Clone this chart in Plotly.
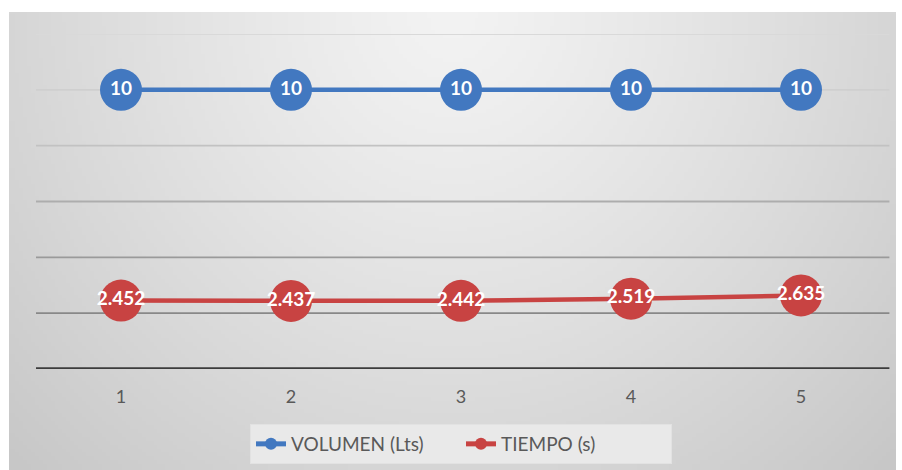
import base64
import struct
import zlib

import numpy as np
import plotly.graph_objects as go

# Series data
trials = [1, 2, 3, 4, 5]
tick_text = ["1", "2", "3", "4", "5"]
volumen = [10, 10, 10, 10, 10]
tiempo = [2.452, 2.437, 2.442, 2.519, 2.635]

# Horizontal grid levels and their shades (lighter towards the top)
grid_levels = [2, 4, 6, 8, 10, 12]
grid_colors = ["#888888", "#9a9a9a", "#adadad", "#c2c2c2", "#cfcfcf", "#d9d9d9"]

BLUE = "#4278c0"
RED = "#c84342"
TEXT_GREY = "#595959"
FONT = "Lato, 'Open Sans', sans-serif"


def png_data_uri(rgb):
    """Encode an HxWx3 uint8 array as a PNG data URI."""
    h, w, _ = rgb.shape
    raw = b"".join(b"\x00" + rgb[i].tobytes() for i in range(h))

    def chunk(tag, data):
        c = struct.pack(">I", len(data)) + tag + data
        return c + struct.pack(">I", zlib.crc32(tag + data) & 0xFFFFFFFF)

    png = b"\x89PNG\r\n\x1a\n"
    png += chunk(b"IHDR", struct.pack(">IIBBBBB", w, h, 8, 2, 0, 0, 0))
    png += chunk(b"IDAT", zlib.compress(raw, 9))
    png += chunk(b"IEND", b"")
    return "data:image/png;base64," + base64.b64encode(png).decode()


# Soft radial grey backdrop, brightest near the top centre
W, H = 224, 116
xx, yy = np.meshgrid(np.linspace(-1, 1, W), np.linspace(0, 1, H))
d = np.sqrt(xx ** 2 + yy ** 2)
shade = np.clip(243 - 29 * d ** 1.2, 196, 245).astype(np.uint8)
backdrop = np.dstack([shade, shade, shade])

# Page geometry (pixels)
PAGE_W, PAGE_H = 902, 470
ML, MR, MT, MB = 36, 16, 34, 101
PW = PAGE_W - ML - MR
PH = PAGE_H - MT - MB
BG_LEFT, BG_TOP, BG_RIGHT = 9, 12, 896
LEGEND_CY = 444

LABEL_FONT = dict(color="white", size=19, family=FONT, weight="bold")

fig = go.Figure()

fig.add_trace(go.Scatter(
    x=trials, y=volumen, name="VOLUMEN (Lts)",
    mode="lines+markers+text",
    line=dict(color=BLUE, width=4.5),
    marker=dict(color=BLUE, size=42),
    text=[f"{v:g}" for v in volumen],
    textposition="middle center",
    textfont=LABEL_FONT,
))
fig.add_trace(go.Scatter(
    x=trials, y=tiempo, name="TIEMPO (s)",
    mode="lines+markers+text",
    line=dict(color=RED, width=4.5),
    marker=dict(color=RED, size=42),
    text=[f"{v:.3f}" for v in tiempo],
    textposition="middle center",
    textfont=LABEL_FONT,
))

shapes = []
for lvl, col in zip(grid_levels, grid_colors):
    shapes.append(dict(type="line", xref="paper", yref="y", x0=0, x1=1.004,
                       y0=lvl, y1=lvl, line=dict(color=col, width=1.8),
                       layer="below"))
shapes.append(dict(type="line", xref="paper", yref="y", x0=0, x1=1.004,
                   y0=0, y1=0, line=dict(color="#3c3c3c", width=3.4),
                   layer="above"))

fig.update_layout(
    width=PAGE_W, height=PAGE_H,
    margin=dict(l=ML, r=MR, t=MT, b=MB, pad=0, autoexpand=False),
    paper_bgcolor="white",
    plot_bgcolor="rgba(0,0,0,0)",
    font=dict(family=FONT, color=TEXT_GREY),
    shapes=shapes,
    images=[dict(
        source=png_data_uri(backdrop),
        xref="paper", yref="paper",
        x=(BG_LEFT - ML) / PW, y=1 + (MT - BG_TOP) / PH,
        sizex=(BG_RIGHT - BG_LEFT) / PW, sizey=(PAGE_H - BG_TOP) / PH,
        xanchor="left", yanchor="top",
        sizing="stretch", layer="below",
    )],
    xaxis=dict(
        range=[0.5, 5.5], tickvals=trials, ticktext=tick_text,
        showgrid=False, zeroline=False, showline=False,
        ticks="", ticklabelstandoff=15,
        tickfont=dict(size=18, color=TEXT_GREY, family=FONT),
        fixedrange=True, automargin=False,
    ),
    yaxis=dict(
        range=[0, 12], showgrid=False, zeroline=False, showline=False,
        showticklabels=False, ticks="", fixedrange=True, automargin=False,
    ),
    showlegend=True,
    legend=dict(
        orientation="h", xref="paper", x=0.5, xanchor="center",
        yref="container", y=(PAGE_H - LEGEND_CY) / PAGE_H, yanchor="middle",
        bgcolor="#e9e9e9", bordercolor="#e2e2e2", borderwidth=1,
        font=dict(size=19, color=TEXT_GREY, family=FONT),
        itemsizing="constant", entrywidth=165,
    ),
)

fig.write_html("out.html")
